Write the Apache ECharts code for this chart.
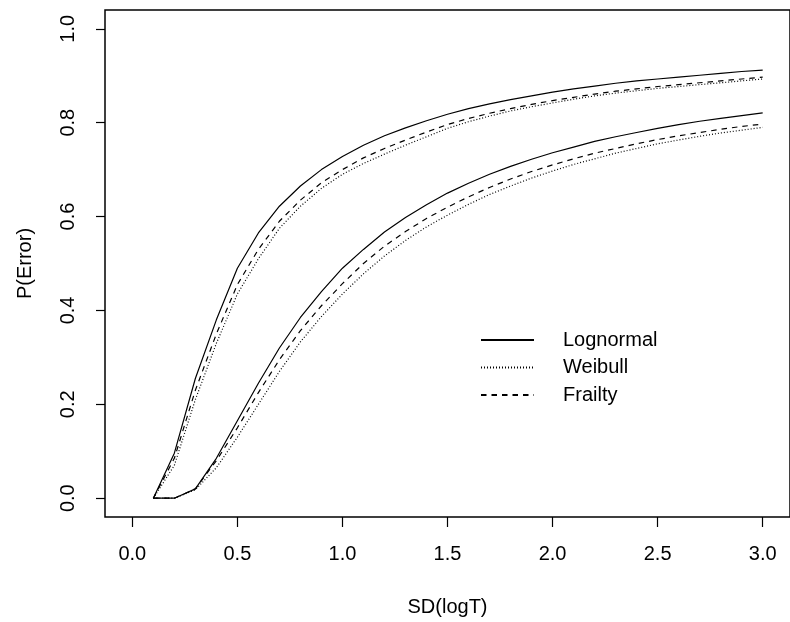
<!DOCTYPE html>
<html>
<head>
<meta charset="utf-8">
<script src="https://cdn.jsdelivr.net/npm/echarts@6/dist/echarts.min.js"></script>
<style>
  html, body { margin: 0; padding: 0; background: #fff; }
  #main { width: 790px; height: 622px; }
</style>
</head>
<body>
<div id="main"></div>
<script>
// SD(logT) grid
var sdValues = [0.1, 0.2, 0.3, 0.4, 0.5, 0.6, 0.7, 0.8, 0.9, 1.0,
                1.1, 1.2, 1.3, 1.4, 1.5, 1.6, 1.7, 1.8, 1.9, 2.0,
                2.1, 2.2, 2.3, 2.4, 2.5, 2.6, 2.7, 2.8, 2.9, 3.0];

// upper group of curves
var upperLognormal = [0, 0.096, 0.255, 0.38, 0.49, 0.565, 0.622, 0.665, 0.70, 0.728,
                      0.752, 0.772, 0.789, 0.804, 0.818, 0.83, 0.84, 0.849, 0.857, 0.865,
                      0.872, 0.878, 0.884, 0.889, 0.893, 0.897, 0.901, 0.905, 0.909, 0.912];
var upperWeibull   = [0, 0.07, 0.21, 0.33, 0.435, 0.51, 0.575, 0.622, 0.66, 0.69,
                      0.713, 0.733, 0.752, 0.77, 0.788, 0.802, 0.814, 0.825, 0.834, 0.842,
                      0.85, 0.857, 0.863, 0.868, 0.873, 0.877, 0.881, 0.885, 0.889, 0.893];
var upperFrailty   = [0, 0.085, 0.23, 0.35, 0.455, 0.53, 0.59, 0.635, 0.672, 0.70,
                      0.725, 0.745, 0.763, 0.78, 0.796, 0.809, 0.82, 0.83, 0.839, 0.847,
                      0.854, 0.861, 0.867, 0.872, 0.877, 0.881, 0.885, 0.889, 0.893, 0.897];

// lower group of curves
var lowerLognormal = [0, 0.0, 0.02, 0.085, 0.165, 0.245, 0.32, 0.385, 0.44, 0.49,
                      0.53, 0.567, 0.598, 0.625, 0.65, 0.671, 0.69, 0.707, 0.722, 0.736,
                      0.748, 0.76, 0.77, 0.779, 0.788, 0.796, 0.803, 0.809, 0.815, 0.821];
var lowerWeibull   = [0, 0.0, 0.018, 0.065, 0.13, 0.2, 0.27, 0.333, 0.387, 0.435,
                      0.478, 0.516, 0.549, 0.578, 0.603, 0.626, 0.647, 0.665, 0.682, 0.697,
                      0.711, 0.723, 0.735, 0.745, 0.755, 0.763, 0.771, 0.778, 0.784, 0.79];
var lowerFrailty   = [0, 0.0, 0.02, 0.08, 0.15, 0.225, 0.295, 0.357, 0.41, 0.457,
                      0.5, 0.537, 0.568, 0.596, 0.62, 0.642, 0.662, 0.68, 0.696, 0.71,
                      0.723, 0.735, 0.745, 0.755, 0.764, 0.772, 0.779, 0.786, 0.792, 0.797];

var xTicks = [0, 0.5, 1.0, 1.5, 2.0, 2.5, 3.0];
var yTicks = [0, 0.2, 0.4, 0.6, 0.8, 1.0];
var legendNames = ['Lognormal', 'Weibull', 'Frailty'];

var font = 'Liberation Sans, Arial, sans-serif';
var lineTypes = {
    Lognormal: 'solid',
    Weibull: [1, 2],
    Frailty: [5.5, 5]
};

function pairs(ys) {
    return sdValues.map(function (x, i) { return [x, ys[i]]; });
}

function makeSeries(name, ys) {
    return {
        name: name,
        type: 'line',
        data: pairs(ys),
        symbol: 'none',
        smooth: false,
        lineStyle: { color: '#000', width: 1.2, type: lineTypes[name] },
        itemStyle: { color: '#000' },
        emphasis: { disabled: true },
        animation: false
    };
}

var myChart = echarts.init(document.getElementById('main'));

var option = {
    backgroundColor: '#fff',
    animation: false,
    grid: {
        left: 105, top: 10, width: 696, height: 515,
        show: true, borderColor: '#000', borderWidth: 1.5, backgroundColor: 'transparent'
    },
    legend: {
        data: legendNames,
        orient: 'vertical',
        left: 480,
        top: 329,
        padding: 0,
        itemWidth: 53,
        itemHeight: 14,
        itemGap: 5.5,
        selectedMode: false,
        itemStyle: { opacity: 0 },
        textStyle: { fontFamily: font, fontSize: 20, color: '#000', lineHeight: 22, padding: [0, 0, 0, 24] }
    },
    xAxis: {
        type: 'value',
        min: -0.13,
        max: 3.13,
        name: 'SD(logT)',
        nameLocation: 'middle',
        nameGap: 80,
        nameTextStyle: { fontFamily: font, fontSize: 20, color: '#000' },
        axisLine: { show: false, onZero: false },
        splitLine: { show: false },
        axisTick: { show: true, length: 10, customValues: xTicks, lineStyle: { color: '#000', width: 1.2 } },
        axisLabel: {
            customValues: xTicks, margin: 27,
            fontFamily: font, fontSize: 20, color: '#000',
            formatter: function (v) { return v.toFixed(1); }
        }
    },
    yAxis: {
        type: 'value',
        min: -0.04,
        max: 1.04,
        name: 'P(Error)',
        nameLocation: 'middle',
        nameGap: 70,
        nameRotate: 90,
        nameTextStyle: { fontFamily: font, fontSize: 20, color: '#000' },
        axisLine: { show: false, onZero: false },
        splitLine: { show: false },
        axisTick: { show: true, length: 9, customValues: yTicks, lineStyle: { color: '#000', width: 1.2 } },
        axisLabel: {
            customValues: yTicks, margin: 27, rotate: 90,
            fontFamily: font, fontSize: 20, color: '#000',
            formatter: function (v) { return v.toFixed(1); }
        }
    },
    series: [
        makeSeries('Lognormal', upperLognormal),
        makeSeries('Weibull', upperWeibull),
        makeSeries('Frailty', upperFrailty),
        makeSeries('Lognormal', lowerLognormal),
        makeSeries('Weibull', lowerWeibull),
        makeSeries('Frailty', lowerFrailty)
    ]
};

myChart.setOption(option);
</script>
</body>
</html>
